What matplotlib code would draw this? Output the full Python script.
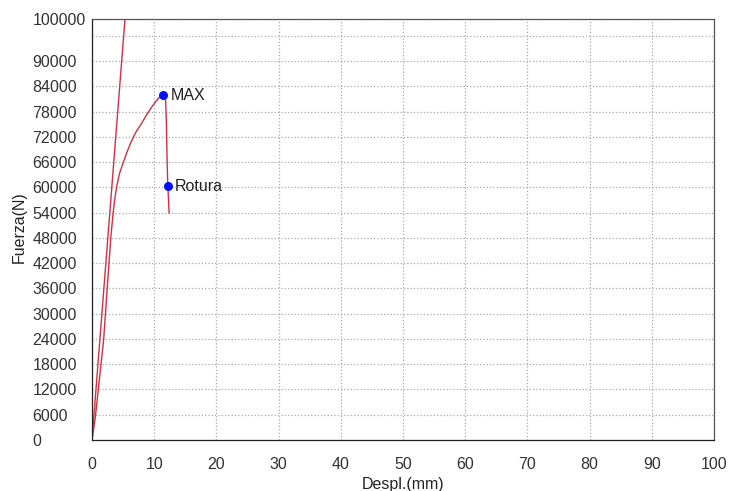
import matplotlib
matplotlib.use('Agg')
import matplotlib.pyplot as plt
import numpy as np

plt.rcParams['font.family'] = ['Liberation Sans', 'DejaVu Sans']

# Ensayo de traccion: curva fuerza-desplazamiento
despl = [0, 0.5, 1.0, 1.45, 1.88, 2.3, 2.73, 3.05, 3.4, 3.65, 3.95, 4.4,
         5.0, 5.6, 6.2, 7.0, 8.0, 8.8, 9.6, 10.2, 10.7, 11.1, 11.47,
         11.8, 11.95, 12.05, 12.15, 12.3, 12.4]
fuerza = [0, 5000, 11900, 18000, 24000, 33000, 42000, 48500, 54000, 57200,
          60000, 63200, 65800, 68300, 70500, 73000, 75300, 77300, 79100,
          80300, 81200, 81700, 81900, 81700, 76000, 68000, 62000, 57000,
          53900]

# recta de pendiente elastica
recta_x = [0, 5.3]
recta_y = [0, 100000]

puntos = ['MAX', 'Rotura']
puntos_x = [11.47, 12.2]
puntos_y = [81900, 60300]

y_ticks = list(range(0, 96001, 6000)) + [100000]
y_labels = [str(t) if t != 96000 else '' for t in y_ticks]
x_ticks = list(range(0, 101, 10))

fig = plt.figure(figsize=(7.32, 4.91), dpi=100)
ax = fig.add_axes([0.1257, 0.1039, 0.8497, 0.8574])

line_color = '#d0303f'
ax.plot(recta_x, recta_y, color=line_color, linewidth=1.0)
ax.plot(despl, fuerza, color=line_color, linewidth=1.0)
ax.scatter(puntos_x, puntos_y, color='#0010ff', s=30, zorder=5)
for name, px, py in zip(puntos, puntos_x, puntos_y):
    ax.annotate(name, (px, py), xytext=(5, 0), textcoords='offset points',
                fontsize=11.5, va='center', color='#222222')

ax.set_xlim(0, 100)
ax.set_ylim(0, 100000)
ax.set_xticks(x_ticks)
ax.set_yticks(y_ticks)
ax.set_yticklabels(y_labels)
ax.tick_params(axis='both', length=0, labelsize=11.5, colors='#333333')
ax.tick_params(axis='x', pad=12)
# etiquetas del eje y alineadas a la izquierda
ax.tick_params(axis='y', pad=43)
for lbl in ax.get_yticklabels():
    lbl.set_horizontalalignment('left')

ax.grid(True, color='#aaaaaa', linestyle=':', linewidth=0.9)
for s in ax.spines.values():
    s.set_color('#555555')
    s.set_linewidth(0.9)
ax.spines['left'].set_color('#222222')
ax.spines['bottom'].set_color('#222222')

ax.set_xlabel('Despl.(mm)', fontsize=11.5, color='#222222')
ax.set_ylabel('Fuerza(N)', fontsize=11.5, color='#222222')
ax.xaxis.set_label_coords(0.5, -0.088)
ax.yaxis.set_label_coords(-0.1045, 0.505)

plt.savefig('out.png', dpi=100, facecolor='white')
plt.close()
